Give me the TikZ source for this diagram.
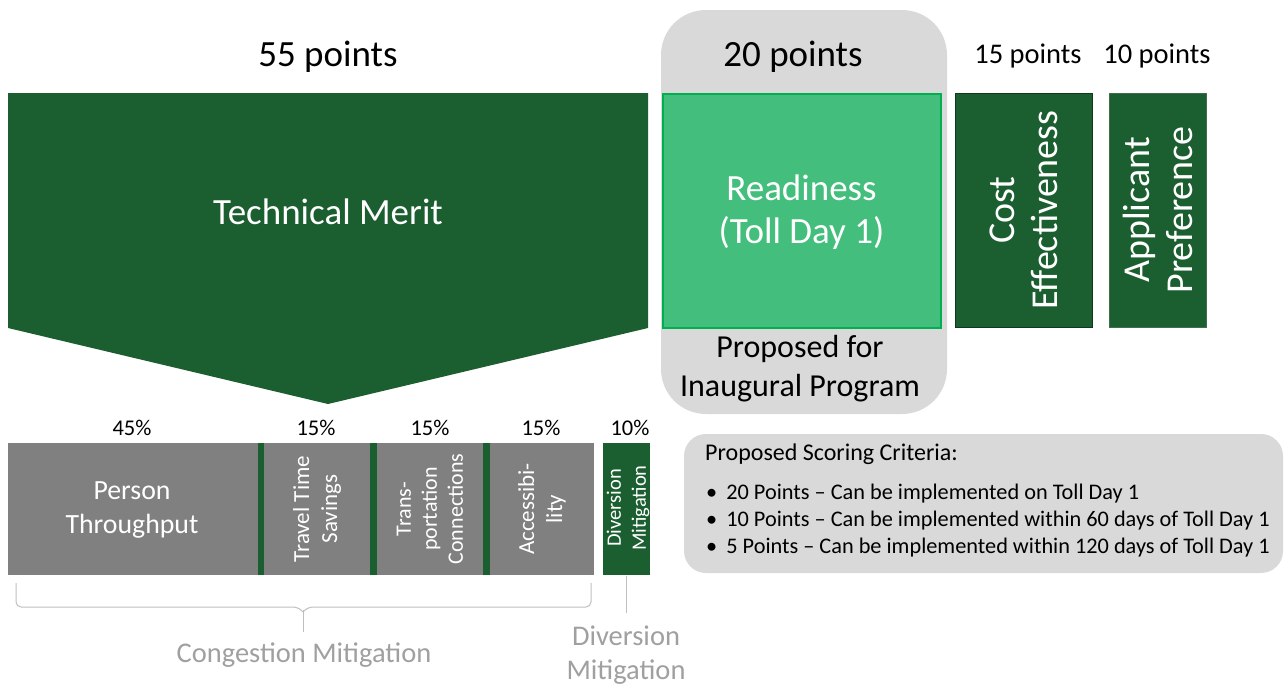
\documentclass[tikz,border=0pt]{standalone}
\usepackage{fontspec}
\setmainfont{Carlito}
\definecolor{dkgreen}{RGB}{27,94,48}
\definecolor{readfill}{RGB}{67,190,124}
\definecolor{readborder}{RGB}{0,176,80}
\definecolor{lgray}{RGB}{217,217,217}
\definecolor{bargray}{RGB}{128,128,128}
\definecolor{txtgray}{RGB}{160,160,160}
\definecolor{bracegray}{RGB}{191,191,191}
\begin{document}
\begin{tikzpicture}[x=1pt,y=-1pt,
  boxnode/.style={rectangle,inner sep=0pt,outer sep=0pt},
  bigtxt/.style={font=\fontsize{37}{43}\selectfont,align=center,inner sep=0pt},
  whitetxt/.style={text=white,align=center,inner sep=0pt},
  pct/.style={font=\fontsize{22.5}{26}\selectfont,inner sep=0pt},
  graylbl/.style={text=txtgray,font=\fontsize{28.5}{34}\selectfont,align=center,inner sep=0pt},
  crit/.style={anchor=west,font=\fontsize{22.3}{26}\selectfont,inner sep=0pt}]
\useasboundingbox (0,0) rectangle (1284,688);
\fill[white] (0,0) rectangle (1284,688);

% headers
\node[bigtxt] (p55) at (328,57) {55 points};

% gray background for readiness
\node[boxnode,fill=lgray,rounded corners=45pt,minimum width=286pt,minimum height=404pt] (grayback) at (804,212) {};
\node[bigtxt] (p20) at (793,57) {20 points};
\node[font=\fontsize{28.5}{34}\selectfont,inner sep=0pt] (p15) at (1028,56) {15 points};
\node[font=\fontsize{28.5}{34}\selectfont,inner sep=0pt] (p10) at (1157,56) {10 points};

% technical merit
\fill[dkgreen] (8,93) -- (648,93) -- (648,328) -- (328,404) -- (8,328) -- cycle;
\node[bigtxt,text=white] (tm) at (328,212) {Technical Merit};

% readiness
\node[boxnode,fill=readfill,draw=readborder,line width=2pt,minimum width=278pt,minimum height=234pt] (ready) at (801.5,210.5) {};
\node[bigtxt,text=white] (readytxt) at (801.5,212) {Readiness\\(Toll Day 1)};
\node[font=\fontsize{32}{39}\selectfont,align=center,inner sep=0pt] (prop) at (800,369) {Proposed for\\Inaugural Program};

% cost / applicant
\node[boxnode,fill=dkgreen,draw=dkgreen!60!black,line width=1pt,minimum width=137pt,minimum height=234pt] (cost) at (1024,210.5) {};
\node[whitetxt,rotate=90,font=\fontsize{38}{43.5}\selectfont] (costtxt) at (1024,210) {Cost\\Effectiveness};
\node[boxnode,fill=dkgreen,draw=dkgreen!60!gray,line width=1pt,minimum width=97pt,minimum height=234pt] (appl) at (1158,210.5) {};
\node[whitetxt,rotate=90,font=\fontsize{38}{43.5}\selectfont] (appltxt) at (1158,210) {Applicant\\Preference};

% percentages
\node[pct] (c45) at (132,428) {45\%};
\node[pct] (c15a) at (316,428) {15\%};
\node[pct] (c15b) at (430,428) {15\%};
\node[pct] (c15c) at (541,428) {15\%};
\node[pct] (c10) at (630,428) {10\%};

% bars
\node[boxnode,fill=bargray,minimum width=586pt,minimum height=132pt] (bars) at (301,509) {};
\node[boxnode,fill=dkgreen,minimum width=6pt,minimum height=132pt] (sep1) at (261,509) {};
\node[boxnode,fill=dkgreen,minimum width=7pt,minimum height=132pt] (sep2) at (373.5,509) {};
\node[boxnode,fill=dkgreen,minimum width=7pt,minimum height=132pt] (sep3) at (486.5,509) {};
\node[boxnode,fill=dkgreen,minimum width=47pt,minimum height=132pt] (div) at (626,509) {};

\node[whitetxt,font=\fontsize{27.8}{34}\selectfont] (person) at (132,510) {Person\\Throughput};
\node[whitetxt,rotate=90,font=\fontsize{23}{28}\selectfont] (travel) at (317,509) {Travel Time\\Savings};
\node[whitetxt,rotate=90,font=\fontsize{22}{26}\selectfont] (trans) at (430,509) {Trans-\\portation\\Connections};
\node[whitetxt,rotate=90,font=\fontsize{23}{28}\selectfont] (access) at (542,509) {Accessibi-\\lity};
\node[whitetxt,rotate=90,font=\fontsize{20.5}{25}\selectfont] (divtxt) at (628,508) {Diversion\\Mitigation};

% brace
\coordinate (brL) at (16,583);
\coordinate (brR) at (591,583);
\coordinate (brTip) at (303,632);
\draw[bracegray,line width=1pt,rounded corners=5pt] (brL) -- (16,607) -- (298,607) -- (303,612);
\draw[bracegray,line width=1pt,rounded corners=5pt] (brR) -- (591,607) -- (308,607) -- (303,612);
\draw[bracegray,line width=1pt] (303,610) -- (brTip);
\node[graylbl] (cong) at (304,655) {Congestion Mitigation};

% diversion label
\node[graylbl,anchor=north] (divlbl) at (626,626) {Diversion\\Mitigation};
\draw[bracegray,line width=1pt] ([yshift=-1pt]div.south) -- ([yshift=13pt]divlbl.north);

% scoring criteria
\node[boxnode,fill=lgray,rounded corners=22pt,minimum width=599pt,minimum height=139pt] (score) at (983.5,503.5) {};
\node[anchor=west,font=\fontsize{24}{28}\selectfont,inner sep=0pt] (stitle) at (705,454) {Proposed Scoring Criteria:};
\node[crit] (b1) at (706,494) {•\hspace{9pt}20 Points – Can be implemented on Toll Day 1};
\node[crit] (b2) at (706,521) {•\hspace{9pt}10 Points – Can be implemented within 60 days of Toll Day 1};
\node[crit] (b3) at (706,548) {•\hspace{9pt}5 Points – Can be implemented within 120 days of Toll Day 1};
\end{tikzpicture}
\end{document}
